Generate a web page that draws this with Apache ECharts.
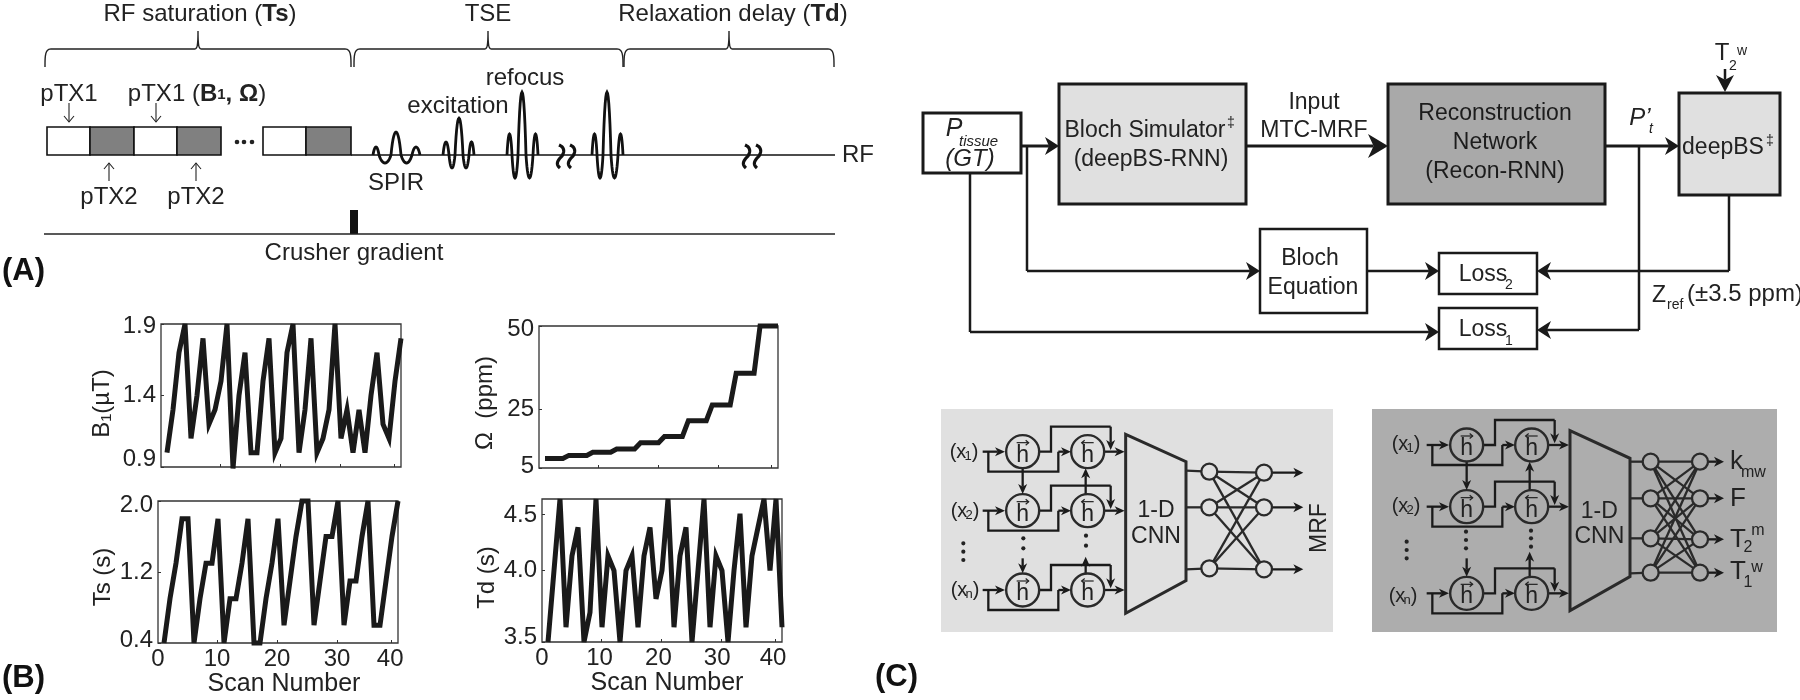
<!DOCTYPE html>
<html><head><meta charset="utf-8">
<style>html,body{margin:0;padding:0;background:#fff}#c{width:1800px;height:700px}</style>
<script src="https://cdn.jsdelivr.net/npm/echarts@6/dist/echarts.min.js"></script>
</head><body><div id="c"></div>
<script>
// ---------- Chart data ----------
const scanNumbers = [1,2,3,4,5,6,7,8,9,10,11,12,13,14,15,16,17,18,19,20,21,22,23,24,25,26,27,28,29,30,31,32,33,34,35,36,37,38,39,40];
const b1Values = [1.0,1.3,1.7,1.9,1.1,1.4,1.8,1.2,1.3,1.5,1.9,0.89,1.4,1.7,1.0,1.0,1.5,1.8,1.0,1.1,1.7,1.9,1.0,1.3,1.8,1.0,1.1,1.3,1.9,1.1,1.3,1.0,1.3,1.0,1.4,1.7,1.2,1.1,1.5,1.8];
const omegaValues = [8,8,8,8,9,9,9,9,10,10,10,10,11,11,11,11,13,13,13,13,15,15,15,15,20,20,20,20,25,25,25,25,35,35,35,35,50,50,50,50];
const tsValues = [0.4,0.9,1.3,1.8,1.8,0.4,0.9,1.3,1.3,1.8,0.4,0.9,0.9,1.3,1.8,0.4,0.4,0.9,1.3,1.8,0.6,1.1,1.6,2.0,2.0,0.6,1.1,1.6,1.6,2.0,0.6,1.1,1.1,1.6,2.0,0.6,0.6,1.1,1.6,2.0];
const tdValues = [3.37,4.0,4.63,3.5,4.13,4.38,3.37,3.63,4.63,3.5,4.13,4.0,3.37,4.0,4.13,3.5,4.13,4.38,3.75,4.0,4.63,3.5,4.13,4.38,3.37,4.0,4.63,3.5,4.13,4.0,3.37,4.0,4.5,3.5,4.13,4.38,4.63,4.0,4.63,3.5];
const xTickLabels = ['0','10','20','30','40'];
const b1TickLabels = ['0.9','1.4','1.9'];
const omegaTickLabels = ['5','25','50'];
const tsTickLabels = ['0.4','1.2','2.0'];
const tdTickLabels = ['3.5','4.0','4.5'];

// ---------- Layout of the four plots ----------
const FONT = '"Liberation Sans", Arial, sans-serif';
const INK = '#222';
const xTicks = [0, 9.95, 19.95, 29.95, 38.8];
const panels = [
  {name:'B₁(µT)', values:b1Values, box:[161,324,240,143], y:[0.9,1.9], yTicks:[0.9,1.4,1.9], yLabelAt:[0.95,1.4,1.88], yLabels:b1TickLabels, xLabels:false, gap:47, shift:16, xLabelAt:[0,10,20,30,39]},
  {name:'Ω  (ppm)', values:omegaValues, box:[539,326,239,142], y:[5,50], yTicks:[5,23.5,50], yLabelAt:[5.6,23.5,49], yLabels:omegaTickLabels, xLabels:false, gap:42, shift:12, xLabelAt:[0,10,20,30,39]},
  {name:'Ts (s)', values:tsValues, box:[158,501,240,142], y:[0.4,2.0], yTicks:[0.4,1.2,2.0], yLabelAt:[0.434,1.2,1.955], yLabels:tsTickLabels, xLabels:true, gap:36, shift:10, xLabelAt:[0,9.85,19.85,29.85,38.7]},
  {name:'Td (s)', values:tdValues, box:[542,499,240,143], y:[3.37,4.63], yTicks:[3.37,4.0,4.5], yLabelAt:[3.41,4.0,4.49], yLabels:tdTickLabels, xLabels:true, gap:43, shift:14, xLabelAt:[0,9.6,19.4,29.2,38.5]}
];
const grid=[], xAxis=[], yAxis=[], series=[];
panels.forEach((p,i)=>{
  grid.push({left:p.box[0],top:p.box[1],width:p.box[2],height:p.box[3],show:true,borderColor:'#333',borderWidth:1.3,backgroundColor:'transparent',containLabel:false});
  xAxis.push({gridIndex:i,type:'value',min:0,max:40,splitLine:{show:false},axisLine:{show:false},
    axisTick:{show:true,inside:true,length:3,lineStyle:{color:'#333',width:1},customValues:xTicks.slice(1)},
    axisLabel:{show:p.xLabels,customValues:p.xLabelAt,formatter:v=>xTickLabels[p.xLabelAt.indexOf(v)],color:INK,fontFamily:FONT,fontSize:24,margin:4,hideOverlap:false,showMinLabel:true,showMaxLabel:true},
    name:p.xLabels?'Scan Number':'',nameLocation:'middle',nameGap:29,nameTextStyle:{color:INK,fontFamily:FONT,fontSize:25,padding:[0,0,0,i===2?12:10]}});
  yAxis.push({gridIndex:i,type:'value',min:p.y[0],max:p.y[1],splitLine:{show:false},axisLine:{show:false},
    axisTick:{show:true,inside:true,length:3,lineStyle:{color:'#333',width:1},customValues:p.yTicks},
    axisLabel:{customValues:p.yLabelAt,formatter:v=>p.yLabels[p.yLabelAt.indexOf(v)],color:INK,fontFamily:FONT,fontSize:24,margin:5,hideOverlap:false,showMinLabel:true,showMaxLabel:true},
    name:p.name,nameLocation:'middle',nameGap:p.gap,nameRotate:90,nameTextStyle:{color:INK,fontFamily:FONT,fontSize:24,padding:[0,p.shift,0,0]}});
  series.push({type:'line',xAxisIndex:i,yAxisIndex:i,data:scanNumbers.map((n,k)=>[n,p.values[k]]),symbol:'none',clip:false,animation:false,silent:true,
    lineStyle:{color:'#1a1a1a',width:5,join:'miter',miterLimit:6,cap:'butt'}});
});

// ---------- Schematic helpers ----------
const els=[];
const S = (o,stroke,lw,fill)=>Object.assign(o,{silent:true,style:Object.assign({stroke:stroke||'#111',lineWidth:lw||2.3,fill:fill===undefined?null:fill},o.style||{})});
function poly(pts,lw,col){els.push(S({type:'polyline',z:5,shape:{points:pts}},col||'#1a1a1a',lw||2.3));}
function rect(x0,y0,x1,y1,fill,lw,col){const o=S({type:'rect',z:3,shape:{x:x0,y:y0,width:x1-x0,height:y1-y0}},col||'#1a1a1a',lw===0?1:(lw||2.3),fill||'#fff');if(lw===0)o.style.stroke=null;els.push(o);}
function path(d,lw,col){ // flatten "M.. C.. L.." into a polyline
  const toks=d.match(/[MCL]|-?[\d.]+/g);let i=0,cmd,pts=[],cx=0,cy=0;
  while(i<toks.length){if(/[MCL]/.test(toks[i]))cmd=toks[i++];
    if(cmd==='C'){const a=toks.slice(i,i+6).map(Number);i+=6;
      for(let k=1;k<=14;k++){const t=k/14,u=1-t;pts.push([u*u*u*cx+3*u*u*t*a[0]+3*u*t*t*a[2]+t*t*t*a[4],u*u*u*cy+3*u*u*t*a[1]+3*u*t*t*a[3]+t*t*t*a[5]]);}
      cx=a[4];cy=a[5];}
    else{cx=+toks[i++];cy=+toks[i++];pts.push([cx,cy]);}}
  poly(pts,lw,col||'#111');}
function shape(pts,fill){els.push({type:'polygon',z:6,silent:true,shape:{points:pts},style:{fill:fill||'#1a1a1a',stroke:null}});}
function circle(x,y,r,lw,fill){els.push(S({type:'circle',z:6,shape:{cx:x,cy:y,r:r}},'#2a2a2a',lw||2.3,fill));}
function dot(x,y,r){els.push({type:'circle',z:7,silent:true,shape:{cx:x,cy:y,r:r},style:{fill:'#222'}});}
function text(s,x,y,o){o=o||{};
  els.push({type:'text',z:8,silent:true,x:x,y:y+(o.rot?0:1.5),rotation:o.rot||0,style:Object.assign({text:s,fill:o.fill||INK,
    font:(o.italic?'italic ':'')+(o.bold?'bold ':'')+(o.size||23)+'px '+FONT,
    align:o.align||'center',verticalAlign:'middle',textAlign:o.align||'center',textVerticalAlign:'middle'},o.rich?{rich:o.rich}:{})});}
function arrow(x1,y1,x2,y2,L,H,lw,col){L=L||14;H=H||18;
  const d=Math.hypot(x2-x1,y2-y1),ux=(x2-x1)/d,uy=(y2-y1)/d,nx=-uy,ny=ux;
  const nb=[x2-ux*L*0.72,y2-uy*L*0.72];
  poly([[x1,y1],nb],lw||2.5,col);
  shape([[x2,y2],[x2-ux*L+nx*H/2,y2-uy*L+ny*H/2],nb,[x2-ux*L-nx*H/2,y2-uy*L-ny*H/2]],col);}
function thinArrow(x1,y1,x2,y2){const s=y2>y1?1:-1;poly([[x1,y1],[x2,y2]],1.1,'#222');poly([[x2-5,y2-6*s],[x2,y2],[x2+5,y2-6*s]],1.1,'#222');}
function brace(x0,x1,t){path(`M${x0} 67C${x0} 56 ${x0} 49 ${x0+6} 49L${t-4} 49C${t-1} 49 ${t} 47 ${t} 31C${t} 47 ${t+1} 49 ${t+4} 49L${x1-6} 49C${x1} 49 ${x1} 56 ${x1} 67`,1.4,'#222');}
function lobes(edges,amps,base,lw){let d=`M${edges[0]} ${base}`;
  amps.forEach((a,i)=>{const e0=edges[i],e1=edges[i+1],w=e1-e0,c=base-a*1.33;d+=`C${e0+w*.28} ${c} ${e0+w*.72} ${c} ${e1} ${base}`;});
  path(d,lw||2.8,'#111');}
function squiggle(x){[0,11].forEach(dx=>{const a=x+dx;path(`M${a+2} 145C${a+7} 147 ${a+8} 151 ${a+5} 156C${a+1} 160 ${a-2} 164 ${a+3} 168`,3.2,'#111');});}

// ---------- (A) pulse sequence ----------
const reg={a:{font:'24px '+FONT,fill:INK},b:{font:'bold 24px '+FONT,fill:INK}};
text('{a|RF saturation (}{b|Ts}{a|)}',200,13,{rich:reg});
text('TSE',488,13,{size:24});
text('{a|Relaxation delay (}{b|Td}{a|)}',733,13,{rich:reg});
brace(45,351,198);brace(354,623,488);brace(624,834,729);
poly([[351,155],[835,155]],1.4,'#111');
[[47,90,'#fff'],[90,134,'#808080'],[134,177,'#fff'],[177,221,'#808080'],[263,306,'#fff'],[306,351,'#808080']].forEach(b=>rect(b[0],127,b[1],155,b[2],1.6,'#111'));
[237,244,252].forEach(x=>dot(x,142,2.3));
text('pTX1',69,93,{size:24});
text('{a|pTX1 (}{b|B}{c|1}{b|, Ω}{a|)}',197,93,{rich:Object.assign({c:{font:'bold 15px '+FONT,fill:INK}},reg)});
thinArrow(69,103,69,122);thinArrow(156,103,156,122);
thinArrow(109,181,109,163);thinArrow(196,181,196,163);
text('pTX2',109,196,{size:24});text('pTX2',196,196,{size:24});
text('SPIR',396,182,{size:24});
text('excitation',458,105,{size:24});
text('refocus',525,77,{size:24});
text('RF',842,154,{align:'left',size:24});
lobes([373,379,391,401,412,420],[8,-8,23,-8,8],155);
lobes([443,449,455,463,469,474],[13,-13,37,-13,13],155);
lobes([507,512,518,526,533,538],[21,-23,63,-23,21],155);
lobes([592,597,603,611,618,623],[21,-23,63,-23,21],155);
squiggle(557);squiggle(743);
rect(350,210,358,234,'#111',0);
poly([[44,234],[835,234]],1.4,'#222');
text('Crusher gradient',354,252,{size:24});
text('(A)',2,270,{bold:true,size:31,align:'left',fill:'#111'});
text('(B)',2,677,{bold:true,size:31,align:'left',fill:'#111'});
text('(C)',875,676,{bold:true,size:31,align:'left',fill:'#111'});

// ---------- (C) flow diagram ----------
rect(923,113,1021,173,'#fff',3);
rect(1059,84,1246,204,'#e0e0e0',3);
rect(1388,84,1605,204,'#a9a9a9',3);
rect(1679,93,1780,195,'#e0e0e0',3);
rect(1260,229,1367,313,'#fff',2.5);
rect(1439,253,1537,294,'#fff',2.5);
rect(1439,308,1537,349,'#fff',2.5);
arrow(1021,146,1059,146,14,18,3);
arrow(1246,146,1388,146,20,24,3);
arrow(1605,146,1679,146,14,18,3);
poly([[1027,146],[1027,271]],2.5);arrow(1027,271,1260,271,14,18,2.5);
arrow(1367,271,1439,271,14,18,2.5);
poly([[1729,195],[1729,271]],2.5);arrow(1729,271,1537,271,14,18,2.5);
poly([[1639,146],[1639,330]],2.5);arrow(1639,330,1537,330,14,18,2.5);
poly([[970,173],[970,332]],2.5);arrow(970,332,1439,332,14,18,2.5);
arrow(1725,69,1725,92,17,18,2.5);
text('T',1722,52,{size:24});text('2',1733,64.5,{size:14});text('w',1742,49.5,{size:14});
text('P',954,128,{italic:true,size:25});text('tissue',959,140,{italic:true,size:15,align:'left'});text('(GT)',970,158,{italic:true,size:24});
text('Bloch Simulator',1145,129);text('‡',1231,122,{size:14});text('(deepBS-RNN)',1151,158);
text('Input',1314,101);text('MTC-MRF',1314,129);
text('Reconstruction',1495,112,{fill:'#1c1c1c'});text('Network',1495,141,{fill:'#1c1c1c'});text('(Recon-RNN)',1495,170,{fill:'#1c1c1c'});
text('P’',1640,117,{italic:true,size:24});text('t',1651,128,{italic:true,size:14});
text('deepBS',1723,146);text('‡',1770,140,{size:14});
text('Bloch',1310,257);text('Equation',1313,286);
text('Loss',1483,273);text('2',1509,284,{size:14});
text('Loss',1483,328);text('1',1509,340,{size:14});
text('Z',1652,294,{align:'left'});text('ref',1667,304,{size:14,align:'left'});text('(±3.5 ppm)',1687,293,{size:24,align:'left'});

// ---------- (C) network panels ----------
function xLabel(sub,px,py){ // px,py in real pixels
  text('(x',px-5,py,{size:20});text(sub,px+5,py+4,{size:13});text(')',px+12,py,{size:20});}
function network(ox,cfg){
  const X=z=>ox+z/3,Y=z=>400+z/3;
  cfg.rows.forEach(cy=>{
    const c1=cfg.c1,c2=cfg.c2;
    arrow(X(c1-120),Y(cy),X(c1-53),Y(cy),10,9,2.3);
    poly([[X(c1-103),Y(cy)],[X(c1-103),Y(cy+60)],[X(c1+107),Y(cy+60)],[X(c1+107),Y(cy)]],2.3);
    arrow(X(c1+107),Y(cy),X(c2-50),Y(cy),10,9,2.3);
    poly([[X(c1+50),Y(cy)],[X(c1+85),Y(cy)],[X(c1+85),Y(cy-75)],[X(c2+69),Y(cy-75)]],2.3);
    arrow(X(c2+69),Y(cy-75),X(c2+69),Y(cy-5),10,9,2.3);
    arrow(X(c2+50),Y(cy),X(cfg.trap[0]-3),Y(cy),10,9,2.3);
    [c1,c2].forEach((c,i)=>{circle(X(c),Y(cy),16.5,2.4,null);
      text('h',X(c),Y(cy)+2,{size:23,fill:'#222'});
      const ay=Y(cy)-9,s=i===0?1:-1;
      poly([[X(c)-6*s,ay],[X(c)+6*s,ay]],1.2,'#222');poly([[X(c)+3*s,ay-2.5],[X(c)+6*s,ay],[X(c)+3*s,ay+2.5]],1.2,'#222');});
  });
  const [r1,r2,r3]=cfg.rows;
  arrow(X(cfg.c1),Y(r1+50),X(cfg.c1),Y(r2-50),10,9,2.3);
  arrow(X(cfg.c2-6),Y(r2-50),X(cfg.c2-6),Y(r1+50),10,9,2.3);
  arrow(X(cfg.c1),Y(cfg.d1[1]),X(cfg.c1),Y(r3-50),10,9,2.3);
  arrow(X(cfg.c2-6),Y(r3-50),X(cfg.c2-6),Y(cfg.d2[1]),10,9,2.3);
  const T=cfg.trap;
  els.push(S({type:'polygon',z:5,shape:{points:[[X(T[0]),Y(T[1])],[X(T[2]),Y(T[3])],[X(T[2]),Y(T[4])],[X(T[0]),Y(T[5])]]}},'#2a2a2a',3,null));
  text('1-D',X(T[6]),Y(cfg.tY[0]));text('CNN',X(T[6]),Y(cfg.tY[1]));
  cfg.dots.forEach(d=>d[1].forEach(y=>dot(X(d[0]),Y(y),2.1)));
  cfg.nA.forEach((a,i)=>{poly([[X(T[2]),Y(cfg.lines[i])],[X(cfg.ax),Y(a)]],2.3,'#2a2a2a');
    cfg.nB.forEach(b=>poly([[X(cfg.ax),Y(a)],[X(cfg.bx),Y(b)]],2.3,'#2a2a2a'));});
  cfg.nB.forEach(b=>arrow(X(cfg.bx),Y(b),X(cfg.outX),Y(b),10,10,2.3));
  const fill=cfg.bg;
  cfg.nA.forEach(a=>circle(X(cfg.ax),Y(a),8,2.3,fill));
  cfg.nB.forEach(b=>circle(X(cfg.bx),Y(b),8,2.3,fill));
}
rect(941,409,1333,632,'#e0e0e0',0);
rect(1372,409,1777,632,'#adadad',0);
network(930,{bg:'#e0e0e0',rows:[155,332,570],c1:278,c2:473,trap:[587,103,768,185,542,640,678],tY:[328,405],
  d1:[280,475],d2:[468,470],
  dots:[[100,[430,455,480]],[280,[415,445]],[468,[407,437]]],
  ax:838,bx:1002,nA:[215,322,505],nB:[218,322,508],lines:[212,322,508],outX:1120});
xLabel('1',963,451);xLabel('2',964,510);xLabel('n',964,589);
text('MRF',1320,528,{rot:Math.PI/2,size:23});
network(1360,{bg:'#adadad',rows:[135,320,580],c1:320,c2:515,trap:[630,92,810,175,530,632,718],tY:[330,405],
  d1:[318,475],d2:[513,455],
  dots:[[140,[425,450,475]],[318,[395,420,445]],[513,[392,415,440]]],
  ax:872,bx:1020,nA:[185,295,415,518],nB:[185,295,418,518],lines:[185,295,415,520],outX:1092});
xLabel('1',1405,443);xLabel('2',1405,505);xLabel('n',1402,595);
text('k',1730,460,{align:'left',size:26});text('mw',1741,471,{align:'left',size:16});
text('F',1730,497,{align:'left',size:26});
text('T',1730,538,{align:'left',size:26});text('2',1748,546,{size:16});text('m',1758,529,{size:16});
text('T',1730,570,{align:'left',size:26});text('1',1748,581,{size:16});text('w',1757,566,{size:16});

const chart=echarts.init(document.getElementById('c'),null,{renderer:'canvas'});
chart.setOption({animation:false,backgroundColor:'#fff',grid,xAxis,yAxis,series,graphic:{elements:els}});
</script></body></html>
